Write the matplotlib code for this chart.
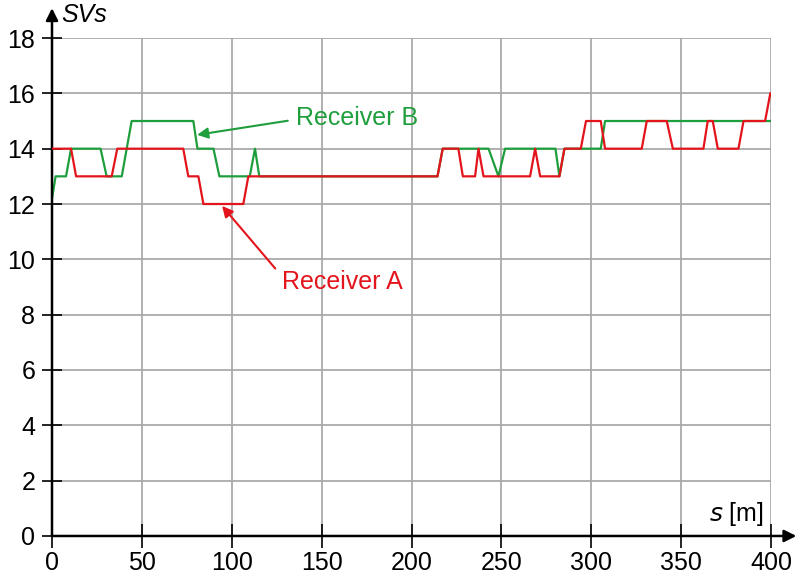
import matplotlib.pyplot as plt

plt.rcParams['font.family'] = ['Liberation Sans', 'DejaVu Sans']

# Receiver A (red)
s_a = [0, 10.6, 13.4, 33.2, 36.3, 73, 75.8, 81.4, 84.2, 106.4, 109.2, 214.4, 217.3,
       226, 228.5, 235.3, 237.2, 240, 265.9, 268.7, 271.5, 282.2, 285, 294.1, 297,
       305.2, 307.6, 328, 330.8, 341.9, 345.3, 362.3, 364.7, 367.5, 370.3, 381.8,
       384.6, 396.6, 399.5, 400]
sv_a = [14, 14, 13, 13, 14, 14, 13, 13, 12, 12, 13, 13, 14,
        14, 13, 13, 14, 13, 13, 14, 13, 13, 14, 14, 15,
        15, 14, 14, 15, 15, 14, 14, 15, 15, 14, 14,
        15, 15, 16, 16]

# Receiver B (green)
s_b = [0, 2, 7.8, 10.6, 27, 30.4, 38.8, 44.3, 78.6, 80.9, 89.8, 93.1, 110, 112.9,
       115.3, 214.4, 217.3, 242.8, 248.3, 252, 280, 282.2, 285, 305.2, 307.6, 400]
sv_b = [12.2, 13, 13, 14, 14, 13, 13, 15, 15, 14, 14, 13, 13, 14,
        13, 13, 14, 14, 13, 14, 14, 13, 14, 14, 15, 15]

x_ticks = [0, 50, 100, 150, 200, 250, 300, 350, 400]
y_ticks = [0, 2, 4, 6, 8, 10, 12, 14, 16, 18]

red = '#e3141b'
green = '#1e9e3c'
fs = 18

fig = plt.figure(figsize=(8, 5.77), dpi=100)
ax = fig.add_axes([0.065, 0.0711, 0.899, 0.863])

ax.plot(s_b, sv_b, color=green, lw=1.6, zorder=3)
ax.plot(s_a, sv_a, color=red, lw=1.6, zorder=4)

ax.set_xlim(0, 400)
ax.set_ylim(0, 18)
ax.set_xticks(x_ticks)
ax.set_yticks(y_ticks)
ax.tick_params(labelsize=fs, direction='inout', width=1.2, color='black')
ax.tick_params(axis='x', pad=2, length=17)
ax.tick_params(axis='y', pad=5, length=14)
ax.grid(True, color='#aaaaaa', lw=1.3)
ax.set_axisbelow(True)
for sp in ax.spines.values():
    sp.set_visible(False)

# axes with arrows
ax.annotate('', xy=(0, 1.06), xytext=(0, 0), xycoords='axes fraction',
            arrowprops=dict(arrowstyle='-|>', color='black', lw=1.8, mutation_scale=18,
                            shrinkA=0, shrinkB=0))
ax.annotate('', xy=(1.035, 0), xytext=(0, 0), xycoords='axes fraction',
            arrowprops=dict(arrowstyle='-|>', color='black', lw=1.8, mutation_scale=18,
                            shrinkA=0, shrinkB=0))

ax.text(5, 18.4, 'SVs', fontsize=fs, style='italic', va='bottom', ha='left')
ax.text(396, 0.3, r'$\mathit{s}$ [m]', fontsize=fs, va='bottom', ha='right')

ax.annotate('Receiver B', xy=(80.7, 14.5), xytext=(169.7, 15.1), color=green,
            fontsize=fs, ha='center', va='center',
            arrowprops=dict(arrowstyle='-|>', color=green, lw=1.5, mutation_scale=16,
                            shrinkA=4, shrinkB=0, relpos=(0, 0.45)))
ax.annotate('Receiver A', xy=(94.6, 11.93), xytext=(161.3, 9.18), color=red,
            fontsize=fs, ha='center', va='center',
            arrowprops=dict(arrowstyle='-|>', color=red, lw=1.5, mutation_scale=16,
                            shrinkA=4, shrinkB=0, relpos=(0, 0.75)))

fig.savefig('out.png', dpi=100)
